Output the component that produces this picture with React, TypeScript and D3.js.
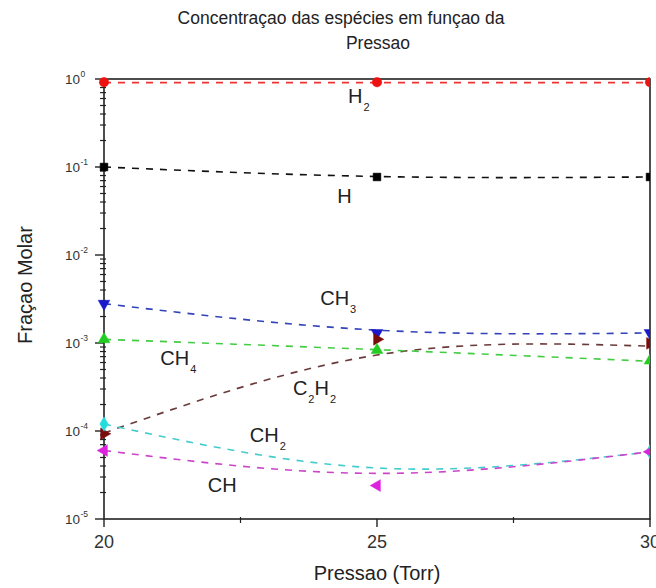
import React from 'react';
import * as d3 from 'd3';

// ---- data ----
const pressures = [20, 25, 30];
const xTicks = [20, 25, 30];
const xMinorTicks = [22.5, 27.5];
const yTickExponents = [0, -1, -2, -3, -4, -5];

// marker values (Fração Molar) at 20, 25, 30 Torr
const h2Points = [0.92, 0.92, 0.92];
const hPoints = [0.1, 0.077, 0.077];
const ch3Points = [2.8e-3, 1.3e-3, 1.3e-3];
const ch4Points = [1.1e-3, 8.3e-4, 6.3e-4];
const c2h2Points = [9.3e-5, 1.1e-3, 9.9e-4];
const ch2Points = [1.2e-4, null, 5.8e-5];
const chPoints = [6.0e-5, 2.4e-5, 5.8e-5];

// dashed fit curves values at 20, 25, 30 Torr
const h2Fit = [0.91, 0.91, 0.91];
const hFit = [0.1, 0.078, 0.077];
const ch3Fit = [2.8e-3, 1.4e-3, 1.3e-3];
const ch4Fit = [1.1e-3, 8.4e-4, 6.2e-4];
const c2h2Fit = [9.5e-5, 7.3e-4, 9.2e-4];
const ch2Fit = [1.2e-4, 3.8e-5, 5.8e-5];
const chFit = [6.0e-5, 3.3e-5, 5.8e-5];

// species label texts: [text, isSubscript]
const h2Label: [string, boolean][] = [['H', false], ['2', true]];
const hLabel: [string, boolean][] = [['H', false]];
const ch3Label: [string, boolean][] = [['CH', false], ['3', true]];
const ch4Label: [string, boolean][] = [['CH', false], ['4', true]];
const c2h2Label: [string, boolean][] = [['C', false], ['2', true], ['H', false], ['2', true]];
const ch2Label: [string, boolean][] = [['CH', false], ['2', true]];
const chLabel: [string, boolean][] = [['CH', false]];

const titleLine1 = 'Concentraçao das espécies em funçao da';
const titleLine2 = 'Pressao';
const xLabel = 'Pressao (Torr)';
const yLabel = 'Fraçao Molar';

// ---- layout ----
const W = 656;
const H = 588;
const M = { left: 104, right: 650, top: 79, bottom: 519 };
const FONT = 'Arial, "Liberation Sans", Helvetica, sans-serif';

type Sym = 'circle' | 'square' | 'up' | 'down' | 'diamond' | 'left' | 'right';

const series = [
  { name: 'H2', color: '#ee1111', line: '#ee3333', sym: 'circle' as Sym, points: h2Points, fit: h2Fit, label: h2Label, lp: [24.47, 0.53] },
  { name: 'H', color: '#000000', line: '#111111', sym: 'square' as Sym, points: hPoints, fit: hFit, label: hLabel, lp: [24.27, 0.039] },
  { name: 'CH3', color: '#1a1acc', line: '#3344bb', sym: 'down' as Sym, points: ch3Points, fit: ch3Fit, label: ch3Label, lp: [23.96, 2.7e-3] },
  { name: 'C2H2', color: '#7a0c0c', line: '#6a3a3a', sym: 'right' as Sym, points: c2h2Points, fit: c2h2Fit, label: c2h2Label, lp: [23.46, 2.57e-4] },
  { name: 'CH4', color: '#22cc22', line: '#44cc44', sym: 'up' as Sym, points: ch4Points, fit: ch4Fit, label: ch4Label, lp: [21.03, 5.6e-4] },
  { name: 'CH2', color: '#22dddd', line: '#44cccc', sym: 'diamond' as Sym, points: ch2Points, fit: ch2Fit, label: ch2Label, lp: [22.67, 7.5e-5] },
  { name: 'CH', color: '#dd22dd', line: '#cc44cc', sym: 'left' as Sym, points: chPoints, fit: chFit, label: chLabel, lp: [21.9, 2.03e-5] },
];

function symbolPath(s: Sym): { d: string; rot: number } {
  const gen = d3.symbol();
  switch (s) {
    case 'circle': return { d: gen.type(d3.symbolCircle).size(70)() as string, rot: 0 };
    case 'square': return { d: gen.type(d3.symbolSquare).size(60)() as string, rot: 0 };
    case 'diamond': return { d: gen.type(d3.symbolDiamond).size(60)() as string, rot: 0 };
    case 'up': return { d: gen.type(d3.symbolTriangle).size(60)() as string, rot: 0 };
    case 'down': return { d: gen.type(d3.symbolTriangle).size(60)() as string, rot: 180 };
    case 'left': return { d: gen.type(d3.symbolTriangle).size(60)() as string, rot: -90 };
    case 'right': return { d: gen.type(d3.symbolTriangle).size(60)() as string, rot: 90 };
  }
}

export default function App() {
  const x = d3.scaleLinear().domain([20, 30]).range([M.left, M.right]);
  const y = d3.scaleLog().domain([1e-5, 1]).range([M.bottom, M.top]);

  const line = d3
    .line<[number, number]>()
    .x((d) => x(d[0]))
    .y((d) => y(d[1]))
    .curve(d3.curveNatural);

  const minorY: number[] = [];
  for (let e = -5; e < 0; e++) {
    for (let k = 2; k <= 9; k++) minorY.push(k * Math.pow(10, e));
  }

  return (
    <svg width={W} height={H} style={{ position: 'absolute', left: 0, top: 0, background: '#fff' }}>
      <defs>
        <clipPath id="mclip">
          <rect x={0} y={0} width={M.right} height={H} />
        </clipPath>
      </defs>
      <rect width={W} height={H} fill="#fff" />

      {/* title */}
      <text x={341} y={24} textAnchor="middle" fontFamily={FONT} fontSize={17.5} fill="#222">{titleLine1}</text>
      <text x={378} y={49} textAnchor="middle" fontFamily={FONT} fontSize={17.5} fill="#222">{titleLine2}</text>

      {/* fit curves */}
      {series.map((s) => (
        <path
          key={'l' + s.name}
          d={line(pressures.map((p, i) => [p, s.fit[i]] as [number, number])) || ''}
          fill="none"
          stroke={s.line}
          strokeWidth={1.6}
          strokeDasharray="7,7"
        />
      ))}

      {/* frame */}
      <rect x={M.left} y={M.top} width={M.right - M.left} height={M.bottom - M.top} fill="none" stroke="#222" strokeWidth={1.6} />

      {/* y ticks */}
      {yTickExponents.map((e) => {
        const yy = y(Math.pow(10, e));
        return (
          <g key={'yt' + e}>
            <line x1={M.left - 9} x2={M.left} y1={yy} y2={yy} stroke="#222" strokeWidth={1.4} />
            <text x={80} y={yy + 5} textAnchor="end" fontFamily={FONT} fontSize={13.5} fill="#333">10</text>
            <text x={80.5} y={yy - 2} textAnchor="start" fontFamily={FONT} fontSize={8.5} fill="#333">{String(e)}</text>
          </g>
        );
      })}
      {minorY.map((v, i) => (
        <line key={'ym' + i} x1={M.left - 4} x2={M.left + 2} y1={y(v)} y2={y(v)} stroke="#222" strokeWidth={1.2} />
      ))}

      {/* x ticks */}
      {xTicks.map((t) => (
        <g key={'xt' + t}>
          <line x1={x(t)} x2={x(t)} y1={M.bottom} y2={M.bottom + 8} stroke="#222" strokeWidth={1.4} />
          <text x={x(t)} y={548} textAnchor="middle" fontFamily={FONT} fontSize={18} fill="#333">{t}</text>
        </g>
      ))}
      {xMinorTicks.map((t) => (
        <line key={'xm' + t} x1={x(t)} x2={x(t)} y1={M.bottom - 2} y2={M.bottom + 4} stroke="#222" strokeWidth={1.2} />
      ))}

      {/* axis labels */}
      <text x={377} y={580} textAnchor="middle" fontFamily={FONT} fontSize={20} fill="#222">{xLabel}</text>
      <text transform={`translate(32,285) rotate(-90)`} textAnchor="middle" fontFamily={FONT} fontSize={20} fill="#222">{yLabel}</text>

      {/* species labels */}
      {series.map((s) => (
        <text key={'lb' + s.name} x={x(s.lp[0])} y={y(s.lp[1])} fontFamily={FONT} fontSize={20} fill="#222">
          {s.label.map(([t, sub], i) => (
            <tspan key={i} fontSize={sub ? 11 : 20} dy={sub ? 8 : (i > 0 && s.label[i - 1][1] ? -8 : 0)} dx={sub ? 1 : 0}>{t}</tspan>
          ))}
        </text>
      ))}

      {/* markers */}
      <g clipPath="url(#mclip)">
        {series.map((s) => {
          const sp = symbolPath(s.sym);
          return pressures.map((p, i) => {
            const v = s.points[i];
            if (v == null) return null;
            return (
              <path
                key={'m' + s.name + i}
                d={sp.d}
                transform={`translate(${x(p)},${y(v)}) rotate(${sp.rot})`}
                fill={s.color}
                stroke={s.color}
                strokeWidth={0.5}
              />
            );
          });
        })}
      </g>
    </svg>
  );
}
